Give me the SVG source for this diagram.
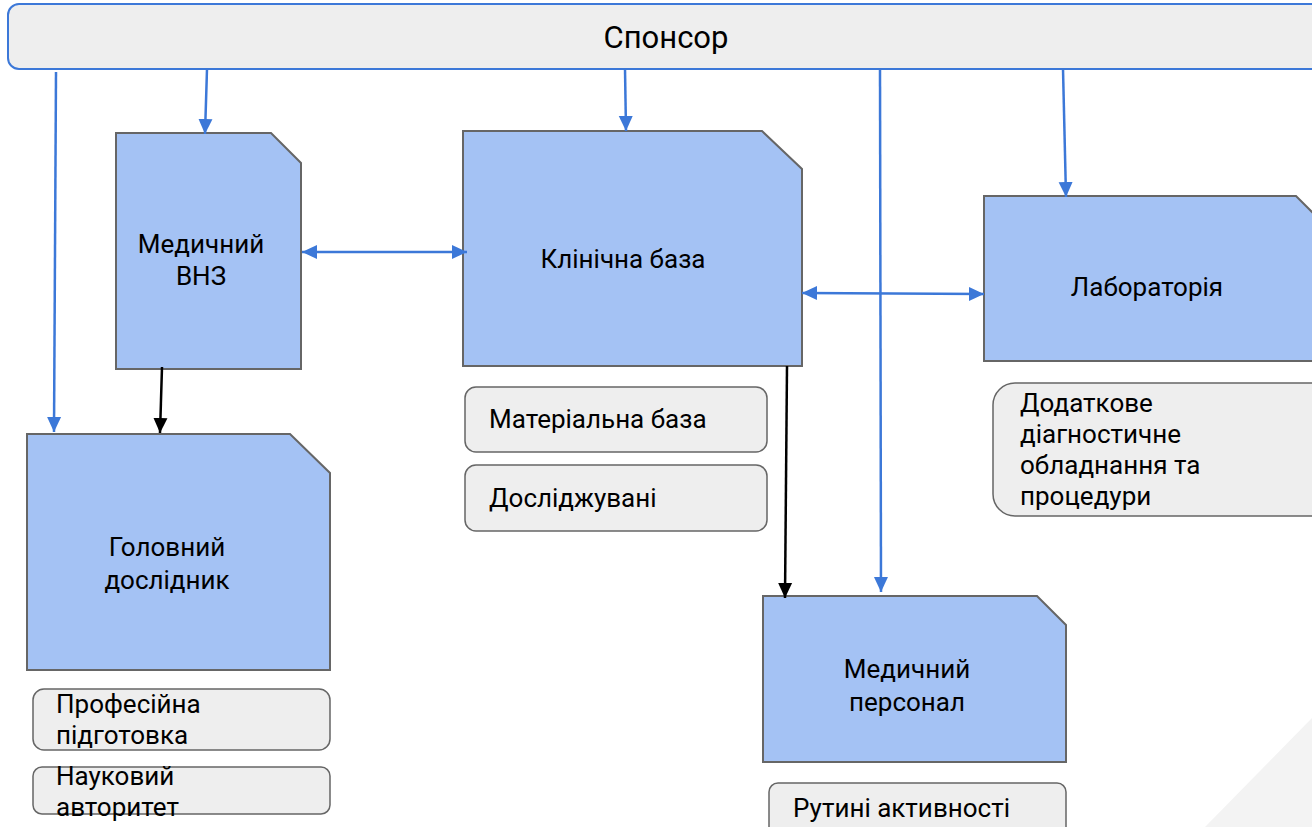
<svg xmlns="http://www.w3.org/2000/svg" width="1312" height="827" viewBox="0 0 1312 827">
<defs>
<style>
.node{fill:#a4c2f4;stroke:#666666;stroke-width:2}
.box{fill:#eeeeee;stroke:#666666;stroke-width:1.5}
.t{font-family:Roboto,"Liberation Sans",sans-serif;font-size:26px;fill:#000}
.tl{font-family:Roboto,"Liberation Sans",sans-serif;font-size:26px;fill:#000}
.blue{stroke:#3c78d8;stroke-width:2.5;fill:none}
.black{stroke:#000;stroke-width:2.5;fill:none}
</style>
<marker id="ab" markerUnits="userSpaceOnUse" viewBox="0 0 16 16" refX="15" refY="8" markerWidth="16" markerHeight="16" orient="auto-start-reverse"><path d="M0,1 L15,8 L0,15 Z" fill="#3c78d8"/></marker>
<marker id="ak" markerUnits="userSpaceOnUse" viewBox="0 0 16 16" refX="15" refY="8" markerWidth="16" markerHeight="16" orient="auto-start-reverse"><path d="M0,1 L15,8 L0,15 Z" fill="#000"/></marker>
</defs>
<rect width="1312" height="827" fill="#ffffff"/>
<polygon points="1312,718 1205,827 1312,827" fill="#f3f3f3"/>

<g id="sponsor">
<rect x="8" y="4" width="1320" height="65" rx="11" fill="#eeeeee" stroke="#3c78d8" stroke-width="2"/>
<text x="666" y="48" text-anchor="middle" font-family="Roboto,'Liberation Sans',sans-serif" font-size="31">Спонсор</text>
</g>

<g id="vnz">
<path class="node" d="M116,133 H271 L301,163 V369 H116 Z"/>
<text class="t" x="201" y="253" text-anchor="middle">Медичний</text>
<text class="t" x="201" y="285" text-anchor="middle">ВНЗ</text>
</g>

<g id="klinichna">
<path class="node" d="M463,131 H762 L802,169 V366 H463 Z"/>
<text class="t" x="623" y="268" text-anchor="middle">Клінічна база</text>
</g>

<g id="lab">
<path class="node" d="M984,196 H1296 L1330,230 V361 H984 Z"/>
<text class="t" x="1147" y="296" text-anchor="middle">Лабораторія</text>
</g>

<g id="holovnyi">
<path class="node" d="M27,434 H290 L330,473 V670 H27 Z"/>
<text class="t" x="167" y="556" text-anchor="middle">Головний</text>
<text class="t" x="167" y="589" text-anchor="middle">дослідник</text>
</g>

<g id="personal">
<path class="node" d="M763,596 H1037 L1066,625 V762 H763 Z"/>
<text class="t" x="907" y="678" text-anchor="middle">Медичний</text>
<text class="t" x="907" y="711" text-anchor="middle">персонал</text>
</g>

<g id="materialna">
<rect class="box" x="465" y="387" width="302" height="65" rx="11"/>
<text class="tl" x="489" y="428">Матеріальна база</text>
</g>
<g id="doslidzhuvani">
<rect class="box" x="465" y="465" width="302" height="66" rx="11"/>
<text class="tl" x="489" y="507">Досліджувані</text>
</g>
<g id="dodatkove">
<rect class="box" x="993" y="383" width="340" height="133" rx="22"/>
<text class="tl" x="1020" y="412">Додаткове</text>
<text class="tl" x="1020" y="443">діагностичне</text>
<text class="tl" x="1020" y="474">обладнання та</text>
<text class="tl" x="1020" y="505">процедури</text>
</g>
<g id="profesiina">
<rect class="box" x="33" y="689" width="297" height="61" rx="11"/>
<text class="tl" x="56" y="713">Професійна</text>
<text class="tl" x="56" y="744">підготовка</text>
</g>
<g id="naukovyi">
<rect class="box" x="33" y="767" width="297" height="47" rx="9"/>
<text class="tl" x="56" y="785">Науковий</text>
<text class="tl" x="56" y="816">авторитет</text>
</g>
<g id="rutyni">
<rect class="box" x="769" y="783" width="297" height="60" rx="9"/>
<text class="tl" x="793" y="817">Рутині активності</text>
</g>

<g id="connectors">
<line class="blue" x1="56" y1="72" x2="54" y2="432" marker-end="url(#ab)"/>
<line class="blue" x1="207" y1="69" x2="205" y2="134" marker-end="url(#ab)"/>
<line class="blue" x1="625" y1="69" x2="626" y2="131" marker-end="url(#ab)"/>
<line class="blue" x1="880" y1="69" x2="881" y2="592" marker-end="url(#ab)"/>
<line class="blue" x1="1063" y1="69" x2="1066" y2="197" marker-end="url(#ab)"/>
<line class="blue" x1="302" y1="252" x2="467" y2="252" marker-start="url(#ab)" marker-end="url(#ab)"/>
<line class="blue" x1="802" y1="293" x2="984" y2="294" marker-start="url(#ab)" marker-end="url(#ab)"/>
<line class="black" x1="162" y1="367" x2="160" y2="433" marker-end="url(#ak)"/>
<line class="black" x1="787" y1="366" x2="785" y2="598" marker-end="url(#ak)"/>
</g>
</svg>
